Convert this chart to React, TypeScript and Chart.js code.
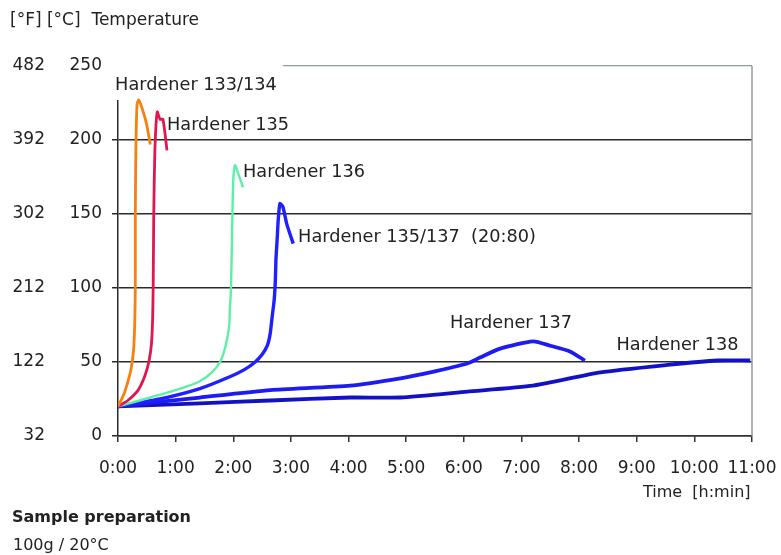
import React, { useEffect, useRef } from "react";
import { Chart, registerables } from "chart.js";

Chart.register(...registerables);

// ---- data ----
const hourTicks = [0, 1, 2, 3, 4, 5, 6, 7, 8, 9, 10, 11];
const celsiusTicks = [0, 50, 100, 150, 200, 250];
const fahrenheitTicks = [32, 122, 212, 302, 392, 482];

const h133Hours = [0, 0.1, 0.18, 0.23, 0.27, 0.29, 0.3, 0.3, 0.31, 0.33, 0.36, 0.43, 0.5, 0.56];
const h133Temp = [20, 28, 38, 46, 58, 75, 99, 149, 193, 224, 227, 220, 210, 197];

const h135Hours = [0, 0.17, 0.35, 0.47, 0.54, 0.58, 0.6, 0.61, 0.62, 0.64, 0.68, 0.73, 0.78, 0.85];
const h135Temp = [20, 24, 31, 41, 51, 62, 78, 99, 149, 193, 219, 214, 214, 193];

const h136Hours = [0, 0.56, 1.08, 1.42, 1.63, 1.77, 1.84, 1.89, 1.93, 1.94, 1.96, 1.98, 2.0, 2.03, 2.08, 2.17];
const h136Temp = [20, 26, 32, 37, 43, 50, 57, 65, 75, 85, 99, 139, 173, 183, 178, 168];

const h135_137Hours = [0, 0.73, 1.42, 1.94, 2.2, 2.38, 2.5, 2.59, 2.64, 2.67, 2.71, 2.73, 2.74, 2.76, 2.78, 2.81, 2.86, 2.93, 3.04];
const h135_137Temp = [20, 25, 32, 40, 45, 50, 55, 61, 69, 79, 92, 105, 119, 132, 146, 157, 155, 143, 130];

const h137Hours = [0, 1.42, 2.64, 4.03, 4.9, 5.42, 6.06, 6.28, 6.63, 7.2, 7.5, 7.85, 8.1];
const h137Temp = [20, 26, 31, 34, 39, 43, 49, 53, 59, 64, 61, 57, 51];

const h138Hours = [0, 1.42, 2.64, 4.03, 4.9, 6.06, 7.2, 8.37, 9.53, 10.4, 10.97];
const h138Temp = [20, 22, 24, 26, 26, 30, 34, 43, 48, 51, 51];

const seriesNames = [
  "Hardener 133/134",
  "Hardener 135",
  "Hardener 136",
  "Hardener 135/137  (20:80)",
  "Hardener 137",
  "Hardener 138",
];
// label anchors (data units: hours, °C)
const labelHours = [-0.05, 0.85, 2.17, 3.125, 5.76, 8.65];
const labelTemp = [237, 210, 178, 134, 76, 61.5];

const colors = ["#F5820F", "#E01650", "#5EEFA6", "#1F1FFF", "#1C1CF0", "#1212C4"];

const toPoints = (xs: number[], ys: number[]) => xs.map((x, i) => ({ x, y: ys[i] }));

const FONT = "'DejaVu Sans', sans-serif";

export default function App() {
  const ref = useRef<HTMLCanvasElement | null>(null);

  useEffect(() => {
    document.body.style.margin = "0";
    if (!ref.current) return;
    const seriesX = [h133Hours, h135Hours, h136Hours, h135_137Hours, h137Hours, h138Hours];
    const seriesY = [h133Temp, h135Temp, h136Temp, h135_137Temp, h137Temp, h138Temp];
    const widths = [2.8, 2.8, 2.4, 3.4, 3.8, 3.8];

    const decor = {
      id: "decor",
      beforeDatasetsDraw(chart: any) {
        const { ctx, chartArea } = chart;
        ctx.save();
        ctx.strokeStyle = "#8f9c9c";
        ctx.lineWidth = 1.5;
        ctx.beginPath();
        ctx.moveTo(chartArea.right, chartArea.top);
        ctx.lineTo(chartArea.right, chartArea.bottom);
        ctx.stroke();
        ctx.fillStyle = "#ffffff";
        ctx.fillRect(chartArea.left - 8, chartArea.top - 8, 173, 42);
        ctx.restore();
      },
      afterDatasetsDraw(chart: any) {
        const { ctx, scales } = chart;
        ctx.save();
        ctx.fillStyle = "#222";
        ctx.font = `17.7px ${FONT}`;
        ctx.textAlign = "left";
        ctx.textBaseline = "middle";
        seriesNames.forEach((name, i) => {
          ctx.fillText(
            name,
            scales.x.getPixelForValue(labelHours[i]),
            scales.y.getPixelForValue(labelTemp[i])
          );
        });
        ctx.restore();
      },
    };

    const chart = new Chart(ref.current, {
      type: "scatter",
      data: {
        datasets: seriesNames.map((name, i) => ({
          label: name,
          data: toPoints(seriesX[i], seriesY[i]),
          showLine: true,
          borderColor: colors[i],
          backgroundColor: colors[i],
          borderWidth: widths[i],
          pointRadius: 0,
          tension: 0.2,
          fill: false,
        })),
      },
      options: {
        animation: false,
        responsive: true,
        maintainAspectRatio: false,
        layout: { padding: { top: 66, right: 29, left: 0, bottom: 0 } },
        plugins: {
          legend: { display: false },
          tooltip: { enabled: false },
          title: { display: false },
        },
        scales: {
          x: {
            type: "linear",
            position: "bottom",
            min: 0,
            max: 11,
            afterBuildTicks: (s: any) => {
              s.ticks = hourTicks.map((v) => ({ value: v }));
            },
            ticks: {
              callback: (v: any) => `${v}:00`,
              font: { family: FONT, size: 17 },
              color: "#222",
              padding: 16,
              maxRotation: 0,
              autoSkip: false,
            },
            grid: { drawOnChartArea: false, drawTicks: true, tickLength: 6, color: "#333", lineWidth: 1.5 },
            border: { color: "#333", width: 1.5 },
            afterFit: (s: any) => {
              s.height = 119;
              s.paddingLeft = 0;
              s.paddingRight = 0;
            },
          },
          y: {
            type: "linear",
            position: "left",
            weight: 0,
            min: 0,
            max: 250,
            afterBuildTicks: (s: any) => {
              s.ticks = celsiusTicks.map((v) => ({ value: v }));
            },
            ticks: {
              font: { family: FONT, size: 17 },
              color: "#222",
              padding: 10,
            },
            grid: {
              color: (c: any) => (c.tick && c.tick.value === 250 ? "#8f9c9c" : "#2a2a2a"),
              lineWidth: (c: any) => (c.tick && c.tick.value === 250 ? 1.2 : 1.5),
              tickLength: 6,
              drawTicks: true,
            },
            border: { color: "#2a2a2a", width: 1.5 },
            afterFit: (s: any) => {
              s.width = 63;
            },
          },
          yF: {
            type: "linear",
            position: "left",
            weight: 1,
            min: 0,
            max: 250,
            afterBuildTicks: (s: any) => {
              s.ticks = celsiusTicks.map((v) => ({ value: v }));
            },
            ticks: {
              callback: (_v: any, i: number) => String(fahrenheitTicks[i]),
              font: { family: FONT, size: 17 },
              color: "#222",
              padding: 10,
            },
            grid: { display: false, drawTicks: false },
            border: { display: false },
            afterFit: (s: any) => {
              s.width = 55;
            },
          },
        },
      },
      plugins: [decor],
    });
    return () => chart.destroy();
  }, []);

  const text = (t: string, left: number, cy: number, size: number, bold = false) => (
    <div
      style={{
        position: "absolute",
        left,
        top: cy - size / 2,
        fontFamily: FONT,
        fontSize: size,
        lineHeight: `${size}px`,
        fontWeight: bold ? "bold" : "normal",
        color: "#222",
        whiteSpace: "pre",
      }}
    >
      {t}
    </div>
  );

  return (
    <div style={{ position: "fixed", left: 0, top: 0, width: 781, height: 555, background: "#fff" }}>
      <canvas ref={ref} style={{ position: "absolute", left: 0, top: 0, width: 781, height: 555 }} />
      {text("[°F] [°C]  Temperature", 10, 19, 17)}
      {text("Time  [h:min]", 643, 492, 16)}
      {text("Sample preparation", 12, 517, 16, true)}
      {text("100g / 20°C", 13, 545, 16)}
    </div>
  );
}
